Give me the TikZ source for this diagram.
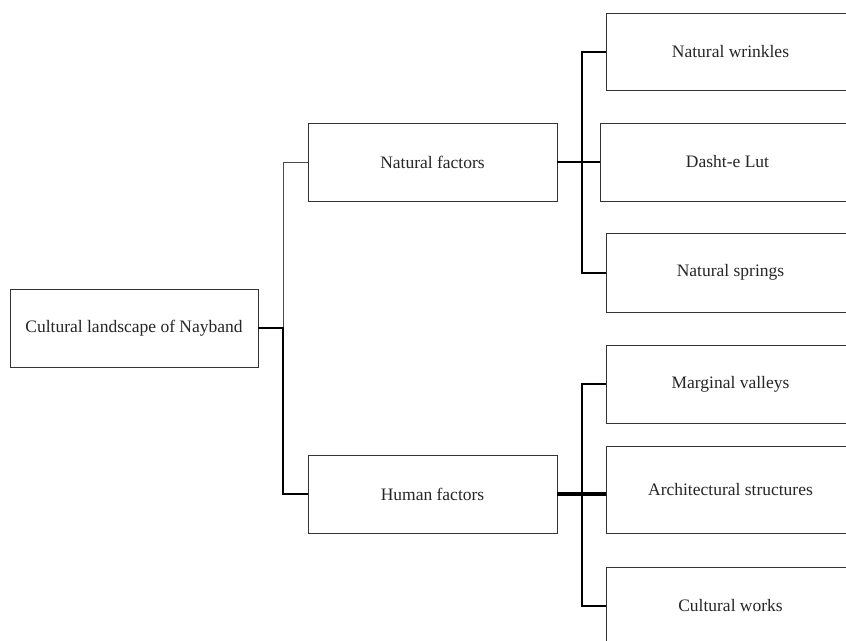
\documentclass[tikz,border=0pt]{standalone}
\usepackage{fontspec}
\setmainfont{Liberation Serif}
\begin{document}
\begin{tikzpicture}[x=1pt,y=-1pt,
  box/.style={draw=black!80,line width=0.9pt,minimum width=249pt,minimum height=78pt,inner sep=0pt,font=\fontsize{17.5}{21}\selectfont,text=black!85},
  thinline/.style={draw=black!70,line width=0.9pt},
  thickline/.style={draw=black,line width=2pt},
  heavyline/.style={draw=black,line width=4pt}]
\useasboundingbox (0,0) rectangle (846,640);
\clip (0,0) rectangle (846,640);
\fill[white] (0,0) rectangle (846,640);
\node[box,minimum width=248pt] (root) at (134,328) {Cultural landscape of Nayband};
\node[box] (nat) at (432.5,162) {Natural factors};
\node[box] (hum) at (432.5,494) {Human factors};
\node[box,minimum height=77pt] (nw) at (730.5,51.5) {Natural wrinkles};
\node[box,minimum width=255pt] (dl) at (727.5,162) {Dasht-e Lut};
\node[box,minimum height=79pt] (ns) at (730.5,272.5) {Natural springs};
\node[box] (mv) at (730.5,384) {Marginal valleys};
\node[box,minimum height=87pt] (as) at (730.5,489.5) {\raisebox{-4pt}{Architectural structures}};
\node[box] (cw) at (730.5,606) {Cultural works};
% left tree
\coordinate (j0) at ([xshift=25pt]root.east);
\draw[thinline] (j0) |- (nat.west);
\draw[thickline] (root.east) -- (j0) |- (hum.west);
% right upper
\coordinate (j1) at ([xshift=25pt]nat.east);
\draw[thickline] (nat.east) -- (j1);
\draw[thickline] (nw.west) -| (j1) |- (ns.west);
\draw[line width=1.3pt] (j1) -- (dl.west);
% right lower
\coordinate (j2) at ([xshift=25pt]hum.east);
\draw[heavyline] (hum.east) -- (as.west |- hum.east);
\draw[thickline] (mv.west) -| (j2) |- (cw.west);
\end{tikzpicture}
\end{document}
